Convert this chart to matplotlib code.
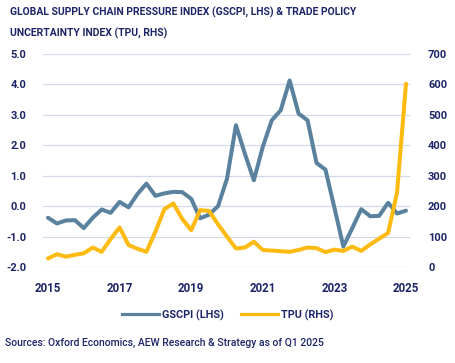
import matplotlib
matplotlib.use("Agg")
import matplotlib.pyplot as plt
from matplotlib.lines import Line2D

# ---- data (quarterly, 2015Q1 .. 2025Q1) ----
quarters = [f"{y}Q{q}" for y in range(2015, 2026) for q in range(1, 5)][:41]
gscpi = [-0.38, -0.57, -0.47, -0.46, -0.72, -0.38, -0.11, -0.22,
         0.14, -0.04, 0.40, 0.74, 0.34, 0.42, 0.47, 0.46,
         0.24, -0.40, -0.28, 0.00, 0.90, 2.66, 1.72, 0.85,
         1.95, 2.82, 3.15, 4.13, 3.04, 2.82, 1.42, 1.20,
         -0.05, -1.33, -0.72, -0.10, -0.33, -0.32, 0.11, -0.24,
         -0.15]
tpu = [28, 42, 34, 40, 45, 64, 50, 92,
       130, 72, 60, 50, 116, 190, 209, 158,
       121, 187, 184, 140, 100, 61, 64, 83,
       56, 54, 52, 50, 56, 64, 62, 49,
       57, 53, 67, 53, 74, 93, 112, 245,
       602]
xtick_labels = ["2015", "2017", "2019", "2021", "2023", "2025"]
left_ticks = [-2.0, -1.0, 0.0, 1.0, 2.0, 3.0, 4.0, 5.0]
right_ticks = [0, 100, 200, 300, 400, 500, 600, 700]

title1 = "GLOBAL SUPPLY CHAIN PRESSURE INDEX (GSCPI, LHS) & TRADE POLICY"
title2 = "UNCERTAINTY INDEX (TPU, RHS)"
source = "Sources: Oxford Economics, AEW Research & Strategy as of Q1 2025"

# ---- style ----
NAVY = "#1d2568"
BLUE = "#5a829f"
GOLD = "#fdbb12"
GRID = "#d3d8ec"
plt.rcParams["font.family"] = ["Roboto", "DejaVu Sans"]

x = [int(s[:4]) + (int(s[5]) - 1) * 0.25 for s in quarters]

fig = plt.figure(figsize=(4.56, 3.63), dpi=100)
ax = fig.add_axes([43 / 456, 1 - 267 / 363, (410 - 43) / 456, (267 - 54) / 363])
ax2 = ax.twinx()

ax.set_xlim(2015 - 5 / 35.8, 2025 + 4 / 35.8)
ax.set_ylim(-2, 5)
ax2.set_ylim(0, 700)

for v in left_ticks:
    ax.axhline(v, color=GRID, lw=0.9, zorder=0)

ax.plot(x, gscpi, color=BLUE, lw=2.9, solid_joinstyle="round", solid_capstyle="round", zorder=3)
ax2.plot(x, tpu, color=GOLD, lw=2.9, solid_joinstyle="round", solid_capstyle="round", zorder=3)

for a in (ax, ax2):
    for s in a.spines.values():
        s.set_visible(False)
    a.tick_params(length=0, colors=NAVY)

ax.set_yticks(left_ticks)
ax.set_yticklabels([f"{v:.1f}" for v in left_ticks], fontsize=8, fontweight="bold")
ax.tick_params(axis="y", pad=12)
ax2.set_yticks(right_ticks)
ax2.set_yticklabels([str(v) for v in right_ticks], fontsize=8, fontweight="bold")
ax2.tick_params(axis="y", pad=13)
ax.set_xticks([int(s) for s in xtick_labels])
ax.set_xticklabels(xtick_labels, fontsize=8.3, fontweight="bold")
ax.tick_params(axis="x", pad=11)

renderer = fig.canvas.get_renderer()


def fit(t, width_px, max_size):
    w = t.get_window_extent(renderer).width
    t.set_fontsize(min(max_size, t.get_fontsize() * width_px / w))


t1 = fig.text(10 / 456, 1 - 12 / 363, title1, ha="left", va="center", color=NAVY,
              fontsize=9, fontweight="bold")
fit(t1, 346, 9.5)
t2 = fig.text(10 / 456, 1 - 33 / 363, title2, ha="left", va="center", color=NAVY,
              fontsize=t1.get_fontsize(), fontweight="bold")
ts = fig.text(5 / 456, 1 - 343 / 363, source, ha="left", va="center", color=NAVY,
              fontsize=8.5, fontweight="medium")
fit(ts, 318, 8.8)

handles = [Line2D([], [], color=BLUE, lw=2.3), Line2D([], [], color=GOLD, lw=2.3)]
leg = fig.legend(handles, ["GSCPI (LHS)", "TPU (RHS)"], loc="center",
                 bbox_to_anchor=(0.50, 1 - 315 / 363), ncol=2, frameon=False,
                 handlelength=3.4, handletextpad=0.3, columnspacing=1.6,
                 prop={"size": 7.8, "weight": "bold"})
for t in leg.get_texts():
    t.set_color(NAVY)

fig.savefig("out.png", dpi=100)
